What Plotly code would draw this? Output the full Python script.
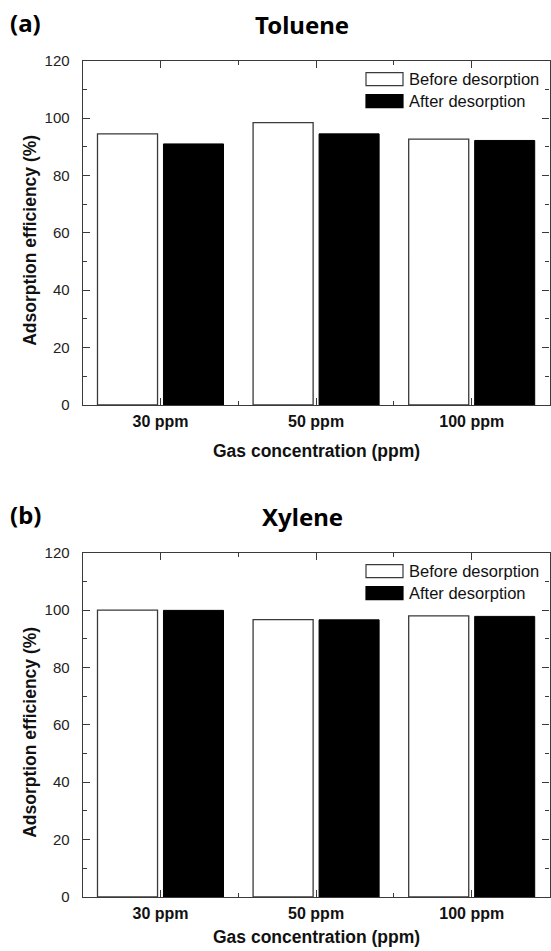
import plotly.graph_objects as go

# ---------------- data ----------------
categories = ["30 ppm", "50 ppm", "100 ppm"]
series_names = ["Before desorption", "After desorption"]
toluene_before = [94.5, 98.4, 92.7]
toluene_after = [91.0, 94.5, 92.2]
xylene_before = [100.0, 96.7, 98.0]
xylene_after = [99.9, 96.6, 97.8]
panel_titles = ["Toluene", "Xylene"]
panel_labels = ["(a)", "(b)"]
x_title = "Gas concentration (ppm)"
y_title = "Adsorption efficiency (%)"

# ---------------- geometry (pixels) ----------------
W, H = 551, 951
LEFT, RIGHT = 82.7, 549.5
TOPS = [60.7, 552.7]
BOTTOMS = [405.0, 897.0]
XTITLE_OFFSETS = [46, 40]


def px(x):
    return x / W


def py(y):
    return 1 - y / H


AXIS_COLOR = "#3a3a3a"
FONT = "Liberation Sans, Arial, sans-serif"
TITLE_FONT = "Noto Sans, Liberation Sans, Arial, sans-serif"

fig = go.Figure()

xpos = list(range(len(categories)))
data_sets = [(toluene_before, toluene_after), (xylene_before, xylene_after)]
for i, (before, after) in enumerate(data_sets):
    sfx = "" if i == 0 else "2"
    fig.add_trace(go.Bar(
        x=xpos, y=before, name=series_names[0], showlegend=False,
        marker=dict(color="white", line=dict(color=AXIS_COLOR, width=1.3)),
        xaxis="x" + sfx, yaxis="y" + sfx, offsetgroup="0",
    ))
    fig.add_trace(go.Bar(
        x=xpos, y=after, name=series_names[1], showlegend=False,
        marker=dict(color="black", line=dict(color="black", width=1)),
        xaxis="x" + sfx, yaxis="y" + sfx, offsetgroup="1",
    ))

xaxis_common = dict(
    range=[-0.5, 2.5], tickmode="array", tickvals=xpos, ticktext=categories,
    ticks="inside", ticklen=7, tickwidth=1, tickcolor=AXIS_COLOR,
    showline=True, linecolor=AXIS_COLOR, linewidth=1.2, mirror="ticks",
    showgrid=False, zeroline=False, automargin=False,
    tickfont=dict(family=FONT, size=16, color="#111", weight="bold"),
    ticklabelstandoff=2,
    minor=dict(tickmode="array", tickvals=[0.5, 1.5], ticks="inside",
               ticklen=4, tickcolor=AXIS_COLOR, showgrid=False),
    fixedrange=True,
)
yaxis_common = dict(
    range=[0, 120], tickmode="linear", tick0=0, dtick=20,
    ticks="inside", ticklen=7, tickwidth=1, tickcolor=AXIS_COLOR,
    showline=True, linecolor=AXIS_COLOR, linewidth=1.2, mirror="ticks",
    showgrid=False, zeroline=False, automargin=False,
    tickfont=dict(family=FONT, size=15, color="#222"),
    ticklabelstandoff=9,
    minor=dict(tickmode="linear", tick0=0, dtick=10, ticks="inside",
               ticklen=4, tickcolor=AXIS_COLOR, showgrid=False),
    fixedrange=True,
)

fig.update_layout(
    template="none",
    width=W, height=H,
    margin=dict(l=0, r=0, t=0, b=0, pad=0, autoexpand=False),
    paper_bgcolor="white", plot_bgcolor="white",
    barmode="group", bargap=0.152, bargroupgap=0.09,
    xaxis=dict(domain=[px(LEFT), px(RIGHT)], anchor="y", **xaxis_common),
    yaxis=dict(domain=[py(BOTTOMS[0]), py(TOPS[0])], anchor="x", **yaxis_common),
    xaxis2=dict(domain=[px(LEFT), px(RIGHT)], anchor="y2", **xaxis_common),
    yaxis2=dict(domain=[py(BOTTOMS[1]), py(TOPS[1])], anchor="x2", **yaxis_common),
)

annotations = []
shapes = []
cx = (LEFT + RIGHT) / 2
for i in range(2):
    top, bot = TOPS[i], BOTTOMS[i]
    # panel label and title
    annotations.append(dict(text="<b>%s</b>" % panel_labels[i], x=px(8), y=py(top - 38),
                            xref="paper", yref="paper", xanchor="left", yanchor="middle",
                            showarrow=False, font=dict(family=TITLE_FONT, size=24, color="black")))
    annotations.append(dict(text="<b>%s</b>" % panel_titles[i], x=px(302), y=py(top - 36),
                            xref="paper", yref="paper", xanchor="center", yanchor="middle",
                            showarrow=False, font=dict(family=TITLE_FONT, size=24, color="black")))
    # axis titles
    annotations.append(dict(text="<b>%s</b>" % x_title, x=px(cx), y=py(bot + XTITLE_OFFSETS[i]),
                            xref="paper", yref="paper", xanchor="center", yanchor="middle",
                            showarrow=False, font=dict(family=FONT, size=17.5, color="#111")))
    annotations.append(dict(text="<b>%s</b>" % y_title, x=px(30), y=py((top + bot) / 2 + 8),
                            xref="paper", yref="paper", xanchor="center", yanchor="middle",
                            textangle=-90, showarrow=False,
                            font=dict(family=FONT, size=17.5, color="#111")))
    # legend (drawn manually)
    for j, (fill, line) in enumerate([("white", AXIS_COLOR), ("black", "black")]):
        yc = top + 18.5 + j * 22
        shapes.append(dict(type="rect", xref="paper", yref="paper",
                           x0=px(366), x1=px(403), y0=py(yc + 6.5), y1=py(yc - 6.5),
                           fillcolor=fill, line=dict(color=line, width=1.2)))
        annotations.append(dict(text=series_names[j], x=px(407), y=py(yc),
                                xref="paper", yref="paper", xanchor="left", yanchor="middle",
                                showarrow=False, font=dict(family=FONT, size=16.5, color="#111")))

fig.update_layout(annotations=annotations, shapes=shapes)
fig.write_html(
    "out.html",
    post_script="document.body.style.margin='0';document.body.style.padding='0';",
)
